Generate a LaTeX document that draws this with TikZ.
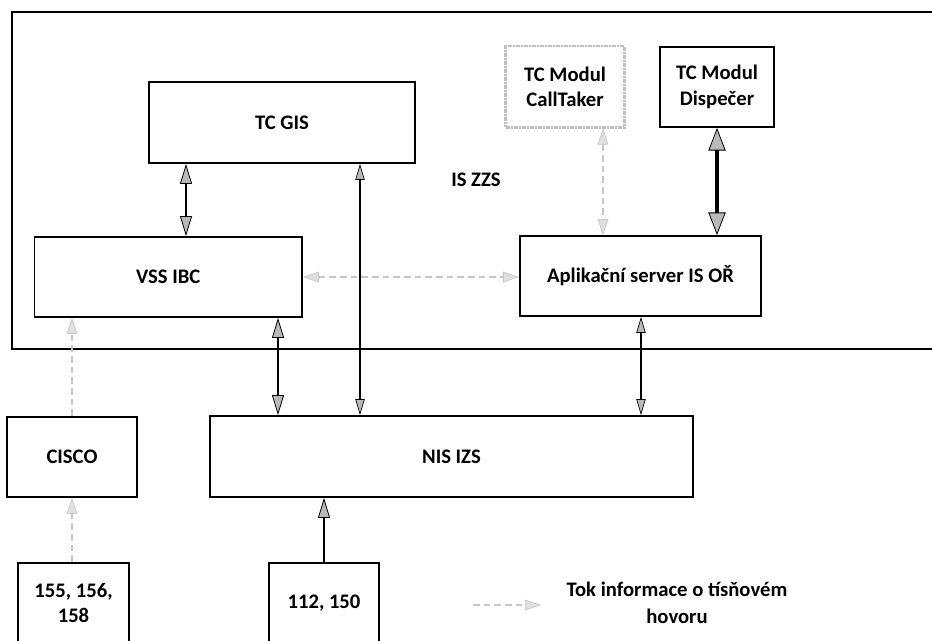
\documentclass[tikz,border=0pt]{standalone}
\usepackage{fontspec}
\setmainfont{Carlito}
\usetikzlibrary{arrows.meta}
\tikzstyle{box} = [draw, line width=1.3pt, inner sep=2pt, align=center, font=\fontsize{15.5}{19}\selectfont\bfseries]
\tikzstyle{bus} = [line width=1.8pt, <->, >={Triangle[length=15pt,width=9pt,line width=0.6pt,fill=gray!55]}]
\tikzstyle{wire} = [line width=1pt, <->, >={Triangle[length=12pt,width=7pt,line width=0.5pt,fill=gray!55]}]
\tikzstyle{flow} = [line width=1.2pt, draw=gray!45, dash pattern={on 5pt off 3pt}, >={Triangle[length=12pt,width=8pt,line width=0.5pt,fill=gray!25]}]

\begin{document}
\begin{tikzpicture}[x=0.75pt,y=0.75pt,yscale=-1,xscale=1]
\useasboundingbox (0,0) rectangle (932,640);

%Shape: Frame IS ZZS
\draw [line width=1.3pt] (940,12) -- (12,12) -- (12,349) -- (940,349) ;
% Text Node
\draw (476,180) node [font=\fontsize{15.5}{19}\selectfont\bfseries] (iszzs) {IS ZZS};

%Shape: Rectangle boxes
\node [box, minimum width=199.5pt, minimum height=60.75pt] (gis) at (282,122.5) {TC GIS};
\node [box, draw=gray!50, line width=2pt, dash pattern={on 1.5pt off 0.5pt}, minimum width=89pt, minimum height=61pt] (calltaker) at (565,86.5) {TC Modul\\CallTaker};
\node [box, minimum width=85.5pt, minimum height=60pt] (dispecer) at (717,87) {TC Modul\\Dispečer};
\node [box, minimum width=200.5pt, minimum height=60pt] (vss) at (168.25,277) {VSS IBC};
\node [box, minimum width=180.75pt, minimum height=60pt] (apl) at (640.5,276) {Aplikační server IS OŘ};
\node [box, minimum width=362.25pt, minimum height=60.75pt] (nis) at (451.5,456.5) {NIS IZS};
\node [box, minimum width=97.5pt, minimum height=60pt] (cisco) at (72,457) {CISCO};
\node [box, minimum width=83.25pt, minimum height=60pt] (tel1) at (73.5,603) {155, 156,\\158};
\node [box, minimum width=82.5pt, minimum height=60pt] (tel2) at (324,603) {112, 150};

%Straight Lines
\draw [bus] (gis.south -| 186,0) -- (vss.north -| 186,0) ;
\draw [wire] (gis.south -| 360,0) -- (nis.north -| 360,0) ;
\draw [bus] (vss.south -| 278,0) -- (nis.north -| 278,0) ;
\draw [wire, line width=1.4pt] (apl.south -| 641,0) -- (nis.north -| 641,0) ;
\draw [bus, line width=2.4pt, >={Triangle[length=17pt,width=13pt,line width=0.6pt,fill=gray!55]}] (dispecer.south) -- (apl.north -| dispecer.south) ;
\draw [bus, -{Triangle[length=15pt,width=9pt,line width=0.6pt,fill=gray!55]}] (tel2.north) -- (nis.south -| tel2.north) ;

%Dashed Lines
\draw [flow, <->] (calltaker.south -| 603,0) -- (apl.north -| 603,0) ;
\draw [flow, <->] (vss.east |- 0,277) -- (apl.west |- 0,277) ;
\draw [flow, ->] (cisco.north) -- (vss.south -| cisco.north) ;
\draw [flow, ->] (tel1.north -| cisco.south) -- (cisco.south) ;

%Legend
\coordinate (legfrom) at (473,605) ;
\coordinate (legto) at (541,605) ;
\draw [flow, ->] (legfrom) -- (legto) ;
% Text Node
\draw (677,603) node [align=center, font=\fontsize{15.5}{20}\selectfont\bfseries] (legtext) {Tok informace o tísňovém\\hovoru};

\end{tikzpicture}
\end{document}
